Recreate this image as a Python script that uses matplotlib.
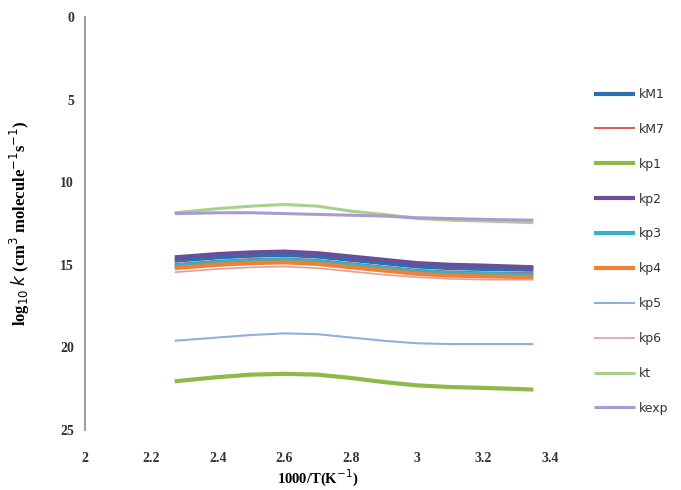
import matplotlib
matplotlib.use("Agg")
import matplotlib.pyplot as plt

# 1000/T (K^-1)
x = [2.27, 2.4, 2.5, 2.6, 2.7, 2.8, 2.9, 3.0, 3.1, 3.2, 3.35]

kM1 = [14.75, 14.55, 14.45, 14.4, 14.5, 14.7, 14.9, 15.1, 15.2, 15.25, 15.3]
kM7 = [14.95, 14.75, 14.65, 14.6, 14.7, 14.9, 15.1, 15.3, 15.4, 15.45, 15.5]
kp1 = [22.05, 21.8, 21.65, 21.6, 21.65, 21.85, 22.1, 22.3, 22.4, 22.45, 22.55]
kp2 = [14.55, 14.35, 14.25, 14.2, 14.3, 14.5, 14.7, 14.9, 15.0, 15.05, 15.15]
kp3 = [15.05, 14.85, 14.75, 14.7, 14.8, 15.0, 15.2, 15.4, 15.5, 15.55, 15.6]
kp4 = [15.2, 15.0, 14.9, 14.85, 14.95, 15.15, 15.35, 15.55, 15.65, 15.7, 15.75]
kp5 = [19.6, 19.4, 19.25, 19.15, 19.2, 19.4, 19.6, 19.75, 19.8, 19.8, 19.8]
kp6 = [15.45, 15.25, 15.15, 15.1, 15.2, 15.4, 15.6, 15.75, 15.85, 15.9, 15.9]
kt = [11.85, 11.6, 11.45, 11.35, 11.45, 11.75, 11.95, 12.2, 12.3, 12.35, 12.45]
kexp = [11.9, 11.85, 11.85, 11.9, 11.95, 12.0, 12.05, 12.15, 12.2, 12.25, 12.3]

series_names = ["kM1", "kM7", "kp1", "kp2", "kp3", "kp4", "kp5", "kp6", "kt", "kexp"]
series_vals = [kM1, kM7, kp1, kp2, kp3, kp4, kp5, kp6, kt, kexp]
colors = ["#2E6EAF", "#D0403C", "#8DB84A", "#6A4E9A", "#3AAFC8", "#EE8232",
          "#92AEDC", "#E59C9A", "#A9D18E", "#A99BD0"]
widths = [3.0, 1.2, 3.0, 3.0, 3.0, 3.0, 1.5, 1.2, 2.2, 2.2]

xticks = [2, 2.2, 2.4, 2.6, 2.8, 3, 3.2, 3.4]
xticklabels = ["2", "2.2", "2.4", "2.6", "2.8", "3", "3.2", "3.4"]
yticks = [0, 5, 10, 15, 20, 25]

fig = plt.figure(figsize=(6.81, 4.90), dpi=100)
ax = fig.add_axes([85/681, 1 - 430/490, 465/681, 413/490])

handles = []
for name, vals, c, w in zip(series_names, series_vals, colors, widths):
    h, = ax.plot(x, vals, color=c, lw=w, label=name, solid_capstyle="butt",
                 solid_joinstyle="round")
    handles.append(h)

ax.set_xlim(2, 3.4)
ax.set_ylim(25, 0)
ax.set_xticks(xticks)
ax.set_xticklabels(xticklabels)
ax.set_yticks(yticks)

for s in ["top", "right", "bottom"]:
    ax.spines[s].set_visible(False)
ax.spines["left"].set_color("#8a8a98")
ax.spines["left"].set_linewidth(1.2)

ax.tick_params(axis="y", length=0, pad=8, labelsize=10, labelcolor="#333333")
ax.tick_params(axis="x", length=0, pad=16, labelsize=10, labelcolor="#333333")
for lab in ax.get_xticklabels() + ax.get_yticklabels():
    lab.set_family("Liberation Serif")
    lab.set_fontweight("bold")

ax.set_xlabel("1000/T(K$^{-1}$)", family="Liberation Serif", fontweight="bold",
              fontsize=10.5, labelpad=2)
ax.set_ylabel("log$_{10}$ $k$ (cm$^3$ molecule$^{-1}$s$^{-1}$)", family="Liberation Serif",
              fontweight="bold", fontsize=12, labelpad=20)

leg = fig.legend(handles=handles, loc="upper left", bbox_to_anchor=(594/681, 1 - 88/490),
                 frameon=False, fontsize=9, handlelength=3.3, handletextpad=0.3,
                 labelspacing=1.75, borderpad=0, borderaxespad=0)
for t in leg.get_texts():
    t.set_color("#333333")

fig.savefig("out.png", dpi=100)
